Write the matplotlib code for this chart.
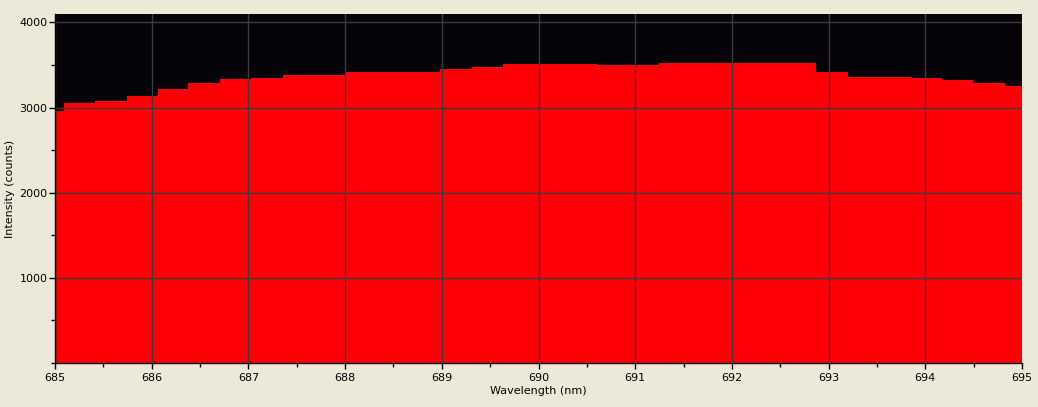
import numpy as np
import matplotlib.pyplot as plt
from matplotlib.ticker import MultipleLocator

# spectrometer pixel bin edges (nm) and counts
edges = [684.77, 685.09, 685.41, 685.74, 686.06, 686.38, 686.71, 687.03,
         687.36, 687.68, 688.01, 688.33, 688.66, 688.98, 689.31, 689.63,
         689.95, 690.28, 690.60, 690.93, 691.25, 691.57, 691.90, 692.22,
         692.55, 692.87, 693.20, 693.52, 693.85, 694.17, 694.49, 694.82,
         695.14]
counts = [2956, 3051, 3078, 3133, 3215, 3286, 3333, 3345,
          3380, 3380, 3415, 3415, 3415, 3451, 3474, 3509,
          3509, 3509, 3498, 3498, 3521, 3521, 3521, 3521,
          3521, 3415, 3357, 3357, 3345, 3321, 3286, 3251]

BG = "#ECE9D8"
PLOT_BG = "#060409"
GRID = "#3C3C3C"
RED = "#FE0005"

plt.rcParams['font.family'] = ['DejaVu Sans']

fig = plt.figure(figsize=(10.38, 4.07), dpi=100, facecolor=BG)
ax = fig.add_axes([55 / 1038, 44 / 407, 967 / 1038, 349 / 407])
ax.set_facecolor(PLOT_BG)

ax.stairs(counts, edges, fill=True, color=RED, zorder=1)

ax.set_xlim(685, 695)
ax.set_ylim(0, 4098)
ax.xaxis.set_major_locator(MultipleLocator(1))
ax.xaxis.set_minor_locator(MultipleLocator(0.5))
ax.yaxis.set_major_locator(MultipleLocator(1000))
ax.yaxis.set_minor_locator(MultipleLocator(500))
ax.set_yticks([1000, 2000, 3000, 4000])

ax.grid(True, which="major", color=GRID, linewidth=1.0, zorder=2)
ax.set_axisbelow(False)

for side in ["top", "right"]:
    ax.spines[side].set_visible(False)
for side in ["left", "bottom"]:
    ax.spines[side].set_color("black")
    ax.spines[side].set_linewidth(1.0)
    ax.spines[side].set_zorder(3)

ax.tick_params(which="major", direction="out", length=4, width=1,
               color="black", labelsize=8, labelcolor="black")
ax.tick_params(axis="y", which="major", pad=1.5)
ax.tick_params(axis="x", which="major", pad=3)
ax.tick_params(which="minor", direction="out", length=3, width=1, color="black")

ax.set_xlabel("Wavelength (nm)", fontsize=8, labelpad=2)
ax.set_ylabel("Intensity (counts)", fontsize=8, labelpad=3)

fig.savefig("out.png", dpi=100, facecolor=BG)
